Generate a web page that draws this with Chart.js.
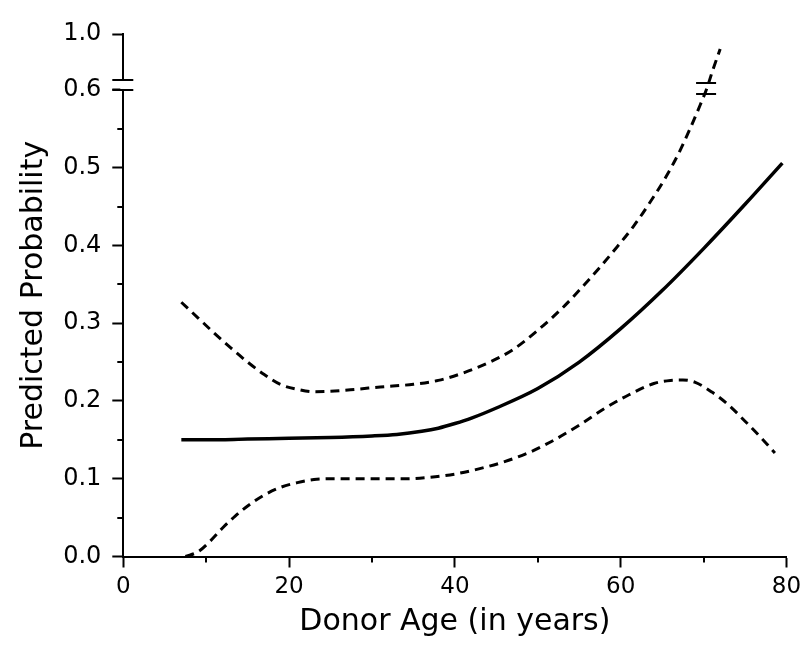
<!DOCTYPE html>
<html>
<head>
<meta charset="utf-8">
<script src="https://cdn.jsdelivr.net/npm/chart.js@4/dist/chart.umd.min.js"></script>
<style>
  html, body { margin: 0; padding: 0; background: #fff; overflow: hidden; width: 800px; height: 647px; }
  #wrap { width: 815px; height: 647px; }
  canvas { display: block; }
</style>
</head>
<body>
<div id="wrap"><canvas id="c" width="815" height="647"></canvas></div>
<script>
// ---- data ----
const xTickValues = [0, 20, 40, 60, 80];
const xTickLabels = ['0', '20', '40', '60', '80'];
const xMinorTicks = [10, 30, 50, 70];

const yTickValues = [0.0, 0.1, 0.2, 0.3, 0.4, 0.5, 0.6, 1.0];
const yTickLabels = ['0.0', '0.1', '0.2', '0.3', '0.4', '0.5', '0.6', '1.0'];
const yMinorTicks = [0.05, 0.15, 0.25, 0.35, 0.45, 0.55];

// predicted probability (solid)
const estAge  = [7, 10, 15, 20, 25, 30, 33, 36, 38, 40, 42, 45, 50, 55, 60, 65, 70, 75, 79.5];
const estProb = [0.150, 0.150, 0.151, 0.152, 0.153, 0.155, 0.157, 0.161, 0.165, 0.171, 0.178, 0.191, 0.216, 0.250, 0.293, 0.342, 0.396, 0.453, 0.506];

// upper confidence bound (dashed)
const upAge  = [7, 9, 11, 13, 15, 17, 19, 21, 23, 25, 28, 31, 35, 38, 41, 44, 47, 50, 53, 56, 57.5, 59, 61.5, 63.5, 65.5, 67.2, 68.4, 69.6, 70.4, 71.1, 72];
const upProb = [0.327, 0.307, 0.287, 0.268, 0.250, 0.234, 0.221, 0.215, 0.212, 0.2125, 0.215, 0.218, 0.2215, 0.2265, 0.236, 0.249, 0.266, 0.291, 0.320, 0.354, 0.372, 0.391, 0.424, 0.455, 0.489, 0.523, 0.551, 0.581, 0.613, 0.741, 0.892];

// lower confidence bound (dashed)
const loAge  = [7.5, 9, 10.5, 12, 13.5, 15, 17, 19, 21, 23, 25, 28, 31, 34, 37, 40, 43, 46, 49, 52, 55, 58, 61, 64, 66, 67.5, 69, 71, 73, 75, 77, 78.6];
const loProb = [0.000, 0.006, 0.020, 0.037, 0.052, 0.065, 0.079, 0.089, 0.095, 0.099, 0.100, 0.100, 0.100, 0.100, 0.102, 0.106, 0.113, 0.122, 0.134, 0.150, 0.169, 0.190, 0.208, 0.2225, 0.2265, 0.227, 0.224, 0.2115, 0.195, 0.174, 0.152, 0.133];

// broken axis: 0..0.6 linear, 0.6..1.0 compressed
const BREAK = 0.6;
const COMPRESS = 0.18;
function toAxis(v) { return v <= BREAK ? v : BREAK + (v - BREAK) * COMPRESS; }

const pts = (xs, ys) => xs.map((x, i) => ({ x: x, y: toAxis(ys[i]) }));

const FONT = "'DejaVu Sans', 'Liberation Sans', sans-serif";

const extrasPlugin = {
  id: 'extras',
  afterDraw(chart) {
    const ctx = chart.ctx;
    const xs = chart.scales.x, ys = chart.scales.y;
    const left = chart.chartArea.left, bottom = chart.chartArea.bottom;
    ctx.save();
    ctx.strokeStyle = '#000';
    ctx.lineWidth = 2;
    // minor ticks
    ctx.beginPath();
    yMinorTicks.forEach(v => {
      const py = Math.round(ys.getPixelForValue(toAxis(v)));
      ctx.moveTo(left - 6, py); ctx.lineTo(left, py);
    });
    xMinorTicks.forEach(v => {
      const px = Math.round(xs.getPixelForValue(v));
      ctx.moveTo(px, bottom); ctx.lineTo(px, bottom + 6);
    });
    ctx.stroke();
    // axis break
    const y06 = ys.getPixelForValue(toAxis(BREAK));
    ctx.fillStyle = '#fff';
    ctx.fillRect(left - 3, y06 - 9, 6, 8);
    ctx.beginPath();
    ctx.moveTo(left - 11, y06); ctx.lineTo(left + 10, y06);
    ctx.moveTo(left - 11, y06 - 10); ctx.lineTo(left + 10, y06 - 10);
    ctx.stroke();
    // break on the upper bound curve
    const bx = xs.getPixelForValue(70.3);
    ctx.beginPath();
    ctx.moveTo(bx - 10, y06 - 7); ctx.lineTo(bx + 10, y06 - 7);
    ctx.moveTo(bx - 10, y06 + 4); ctx.lineTo(bx + 10, y06 + 4);
    ctx.stroke();
    ctx.restore();
  }
};

Chart.defaults.color = '#000';
Chart.defaults.font.family = FONT;

new Chart(document.getElementById('c'), {
  type: 'line',
  data: {
    datasets: [
      { label: 'Predicted', data: pts(estAge, estProb), borderColor: '#000', borderWidth: 3.5,
        pointRadius: 0, fill: false, cubicInterpolationMode: 'monotone' },
      { label: 'Upper', data: pts(upAge, upProb), borderColor: '#000', borderWidth: 3,
        borderDash: [9, 6], pointRadius: 0, fill: false, cubicInterpolationMode: 'monotone' },
      { label: 'Lower', data: pts(loAge, loProb), borderColor: '#000', borderWidth: 3,
        borderDash: [9, 6], pointRadius: 0, fill: false, cubicInterpolationMode: 'monotone' }
    ]
  },
  options: {
    responsive: false,
    animation: false,
    events: [],
    layout: { padding: { left: 0, top: 34, right: 28.5, bottom: 0 } },
    plugins: { legend: { display: false }, tooltip: { enabled: false } },
    scales: {
      x: {
        type: 'linear', min: 0, max: 80,
        afterBuildTicks: (s) => { s.ticks = xTickValues.map(v => ({ value: v })); },
        afterFit: (s) => { s.height = 90.5; },
        ticks: { callback: (v, i) => xTickLabels[i], font: { size: 23, family: FONT }, color: '#000', padding: 6, maxRotation: 0 },
        grid: { drawOnChartArea: false, drawTicks: true, tickLength: 11, tickWidth: 2, tickColor: '#000' },
        border: { display: true, color: '#000', width: 2 },
        title: { display: true, text: 'Donor Age (in years)', color: '#000',
                 font: { size: 30, family: FONT }, padding: { top: 0, bottom: 7 } }
      },
      y: {
        type: 'linear', min: 0, max: toAxis(1.0),
        afterBuildTicks: (s) => { s.ticks = yTickValues.map(v => ({ value: toAxis(v) })); },
        afterFit: (s) => { s.width = 123.3; },
        ticks: { callback: (v, i) => yTickLabels[i], font: { size: 24, family: FONT }, color: '#000', padding: 11 },
        grid: { drawOnChartArea: false, drawTicks: true, tickLength: 11, tickWidth: 2, tickColor: '#000' },
        border: { display: true, color: '#000', width: 2 },
        title: { display: true, text: 'Predicted Probability', color: '#000',
                 font: { size: 30, family: FONT }, padding: { top: 16, bottom: 0 } }
      }
    }
  },
  plugins: [extrasPlugin]
});
</script>
</body>
</html>
